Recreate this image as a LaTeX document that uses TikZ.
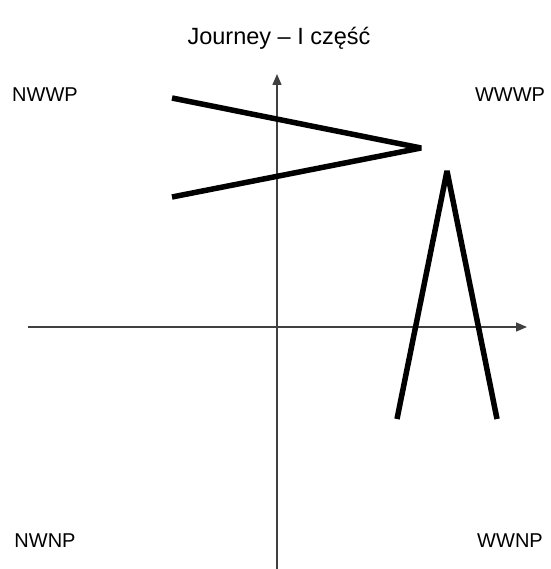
\documentclass[tikz,border=0pt]{standalone}
\usepackage{fontspec}
\setmainfont{Liberation Sans}
\usetikzlibrary{arrows.meta}
\definecolor{axisgrey}{HTML}{404040}

\tikzset{
  axis/.style={axisgrey, line width=1.4pt, -{Triangle[length=11pt, width=9pt]}},
  trace/.style={black, line width=5.5pt, line join=bevel},
  quadlabel/.style={font=\fontsize{20}{24}\selectfont, inner sep=0pt},
  titlelabel/.style={font=\fontsize{23.5}{28}\selectfont, inner sep=0pt},
}

\begin{document}
\begin{tikzpicture}[x=1pt, y=-1pt]

  % === Quadrant chart, pixel coordinates (y grows downwards) ===
  \useasboundingbox (0,0) rectangle (550,569);

  \def\ox{277}   % vertical axis
  \def\oy{327}   % horizontal axis

  % Title
  \node[titlelabel] (title) at (279,38) {Journey – I część};

  % Axes
  \coordinate (xlo) at (28,\oy);
  \coordinate (xhi) at (527,\oy);
  \coordinate (ylo) at (\ox,569);
  \coordinate (yhi) at (\ox,74);
  \draw[axis] (xlo) -- (xhi);
  \draw[axis] (ylo) -- (yhi);

  % Quadrant labels
  \node[quadlabel] (nwwp) at (45,95)  {NWWP};
  \node[quadlabel] (wwwp) at (510,95) {WWWP};
  \node[quadlabel] (nwnp) at (45,541) {NWNP};
  \node[quadlabel] (wwnp) at (510,541) {WWNP};

  % First trace — lying "V"
  \coordinate (a1) at (172,98);
  \coordinate (a2) at (421,148);
  \coordinate (a3) at (172,197);
  \draw[trace] (a1) -- (a2) -- (a3);

  % Second trace — standing "A"
  \coordinate (b1) at (397,419);
  \coordinate (b2) at (447,171);
  \coordinate (b3) at (497,419);
  \draw[trace] (b1) -- (b2) -- (b3);

\end{tikzpicture}
\end{document}
